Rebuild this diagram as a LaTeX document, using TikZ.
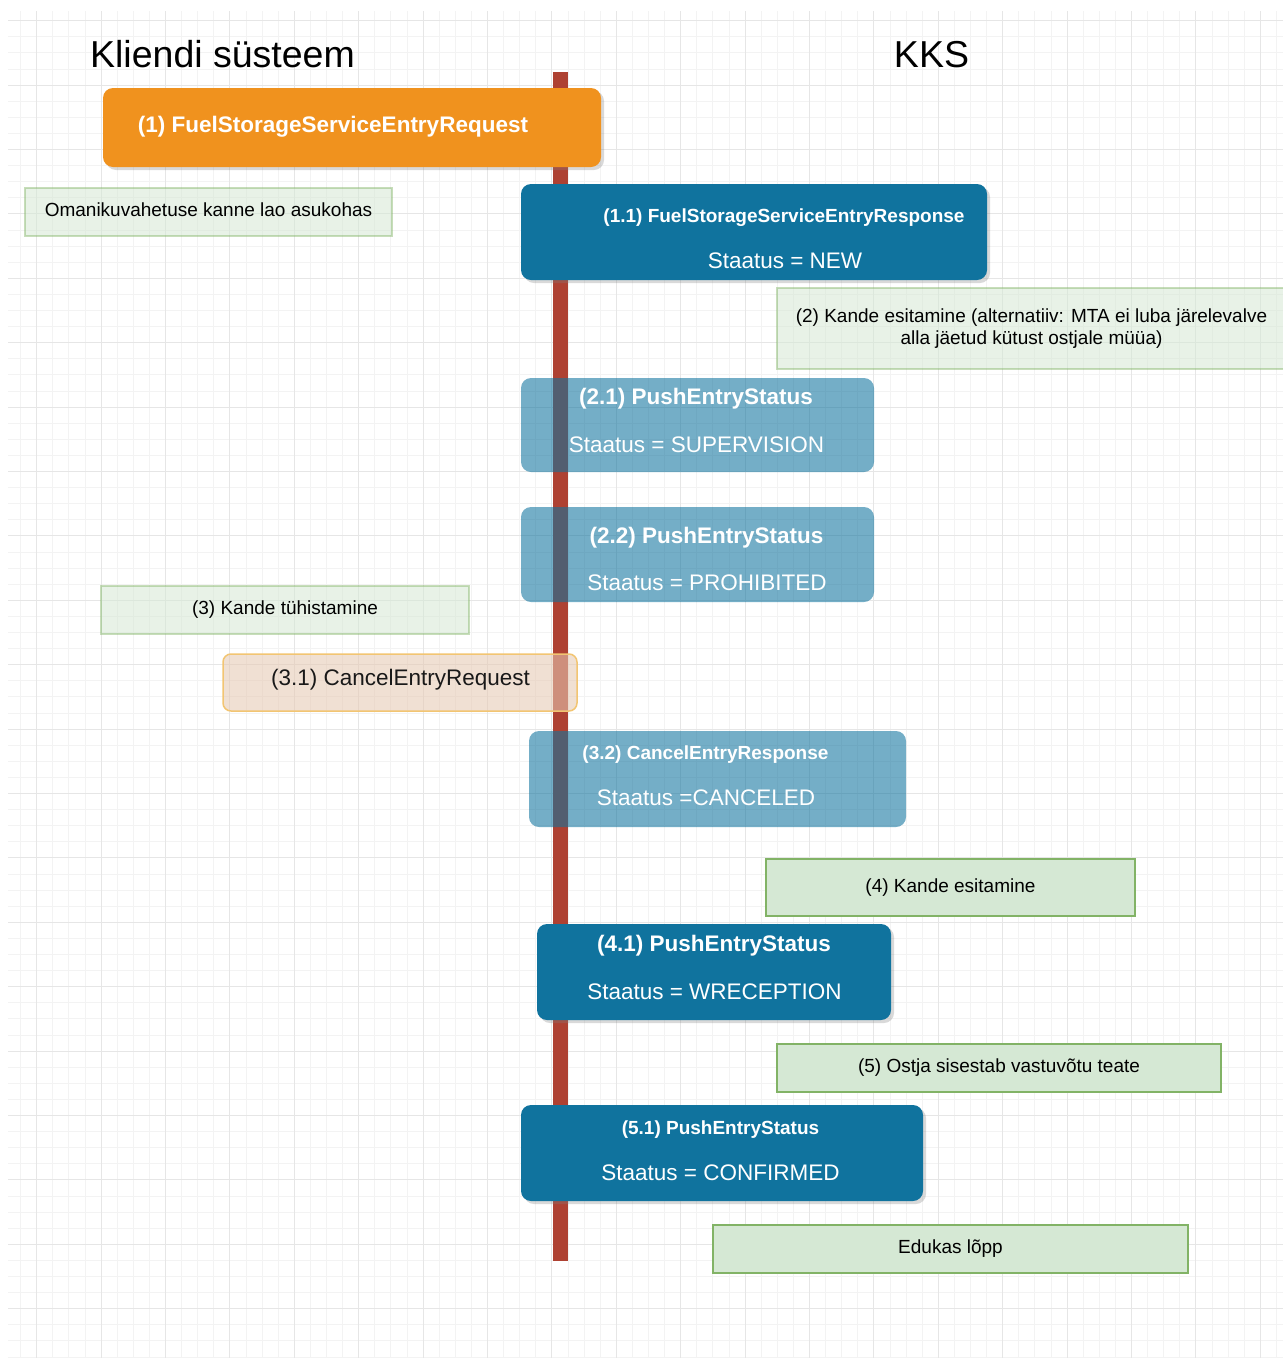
\documentclass[tikz,border=0pt]{standalone}
\usepackage{fontspec}
\setmainfont{Liberation Sans}
\usetikzlibrary{shadows}
\newcommand\pxsize[1]{\fontsize{#1}{#1}\selectfont}
\definecolor{kksblue}{HTML}{10739E}
\definecolor{lifered}{HTML}{AE4132}
\definecolor{reqorange}{HTML}{F0921E}
\definecolor{notefill}{HTML}{D5E8D4}
\definecolor{noteline}{HTML}{82B366}
\definecolor{cancelfill}{HTML}{E6C9B3}
\definecolor{cancelline}{HTML}{F2C572}
\definecolor{minorgrey}{HTML}{F3F3F3}
\definecolor{majorgrey}{HTML}{E6E6E6}
\begin{document}
\begin{tikzpicture}[x=1pt, y=-1pt,
    minor line/.style={draw=minorgrey, line width=1pt},
    major line/.style={draw=majorgrey, line width=1pt},
    lifeline/.style={draw=lifered, line width=15pt},
    title/.style={anchor=base, font=\pxsize{37.5}},
    shade/.style={drop shadow={shadow xshift=3pt, shadow yshift=-3pt, opacity=0.3}},
    request/.style={fill=reqorange, rounded corners=10pt, inner sep=0pt, shade},
    msg/.style={fill=kksblue, rounded corners=10pt, inner sep=0pt},
    solid msg/.style={msg, shade},
    faint msg/.style={msg, fill opacity=0.58},
    cancel/.style={fill=cancelfill, fill opacity=0.58, draw=cancelline, line width=1.5pt,
      rounded corners=8pt, inner sep=0pt},
    head/.style={anchor=base, text=white, font=\pxsize{19}\bfseries},
    bighead/.style={anchor=base, text=white, font=\pxsize{22.5}\bfseries},
    status/.style={anchor=base, text=white, font=\pxsize{22.5}},
    note/.style={draw=noteline, fill=notefill, line width=1.5pt, inner sep=0pt,
      font=\fontsize{19}{22}\selectfont, align=center},
    faint note/.style={note, fill opacity=0.55, draw opacity=0.45, text opacity=1},
    one line/.style={text height=13.9pt, text depth=4pt}]
  \useasboundingbox (0,0) rectangle (1283,1358);
  % grid
  \foreach \i in {0,...,78}
    \draw[minor line] ({20.6+16.1*\i},11) -- ({20.6+16.1*\i},1358);
  \foreach \i in {0,...,83}
    \draw[minor line] (8,{20.7+16.1*\i}) -- (1283,{20.7+16.1*\i});
  \foreach \i in {0,...,19}
    \draw[major line] ({36.7+64.4*\i},11) -- ({36.7+64.4*\i},1358);
  \foreach \i in {0,...,20}
    \draw[major line] (8,{20.7+64.4*\i}) -- (1283,{20.7+64.4*\i});

  % lifeline
  \coordinate (lifetop) at (560.5,72);
  \coordinate (lifebottom) at (560.5,1261);
  \draw[lifeline] (lifetop) -- (lifebottom);

  % titles
  \node[title] (client) at (222.5,67) {Kliendi süsteem};
  \node[title] (kks) at (931.5,67) {KKS};

  % (1)
  \node[request, minimum width=498pt, minimum height=79pt] (req1) at (352,127.5) {};
  \node[bighead] (req1txt) at (333,132) {(1) FuelStorageServiceEntryRequest};
  \node[faint note, one line, minimum width=367pt, minimum height=48pt] (noteowner)
    at (208.5,212) {Omanikuvahetuse kanne lao asukohas};

  % (1.1)
  \node[solid msg, minimum width=466pt, minimum height=96pt] (resp11) at (754,232) {};
  \node[head] (resp11a) at (784,222) {(1.1) FuelStorageServiceEntryResponse};
  \node[status] (resp11b) at (785,268) {Staatus = NEW};

  % (2)
  \node[faint note, minimum width=509pt, minimum height=81pt] (note2) at (1031.5,328.5)
    {(2) Kande esitamine (alternatiiv: MTA ei luba järelevalve\\alla jäetud kütust ostjale müüa)};
  \node[faint msg, minimum width=353pt, minimum height=94pt] (push21) at (697.5,425) {};
  \node[bighead] (push21a) at (696,404) {(2.1) PushEntryStatus};
  \node[status] (push21b) at (696.5,452) {Staatus = SUPERVISION};
  \node[faint msg, minimum width=353pt, minimum height=95pt] (push22) at (697.5,554.5) {};
  \node[bighead] (push22a) at (706.5,543) {(2.2) PushEntryStatus};
  \node[status] (push22b) at (707,590) {Staatus = PROHIBITED};

  % (3)
  \node[faint note, one line, minimum width=368pt, minimum height=48pt] (note3)
    at (285,610) {(3) Kande tühistamine};
  \node[cancel, minimum width=354pt, minimum height=57pt] (cancel31) at (400,682.5) {};
  \node[anchor=base, text=black!90, font=\pxsize{22.5}] (cancel31txt) at (400.5,685)
    {(3.1) CancelEntryRequest};
  \node[faint msg, minimum width=377pt, minimum height=96pt] (cancel32) at (717.5,779) {};
  \node[head] (cancel32a) at (705.5,759) {(3.2) CancelEntryResponse};
  \node[status] (cancel32b) at (706,805) {Staatus =CANCELED};

  % (4)
  \node[note, one line, minimum width=369pt, minimum height=57pt] (note4)
    at (950.5,887.5) {(4) Kande esitamine};
  \node[solid msg, minimum width=354pt, minimum height=96pt] (push41) at (714,972) {};
  \node[bighead] (push41a) at (714,951) {(4.1) PushEntryStatus};
  \node[status] (push41b) at (714.5,999) {Staatus = WRECEPTION};

  % (5)
  \node[note, one line, minimum width=444pt, minimum height=48pt] (note5)
    at (999,1068) {(5) Ostja sisestab vastuvõtu teate};
  \node[solid msg, minimum width=402pt, minimum height=96pt] (push51) at (722,1153) {};
  \node[head] (push51a) at (720.5,1134) {(5.1) PushEntryStatus};
  \node[status] (push51b) at (720.5,1180) {Staatus = CONFIRMED};
  \node[note, one line, minimum width=475pt, minimum height=48pt] (noteend)
    at (950.5,1249) {Edukas lõpp};
\end{tikzpicture}
\end{document}
